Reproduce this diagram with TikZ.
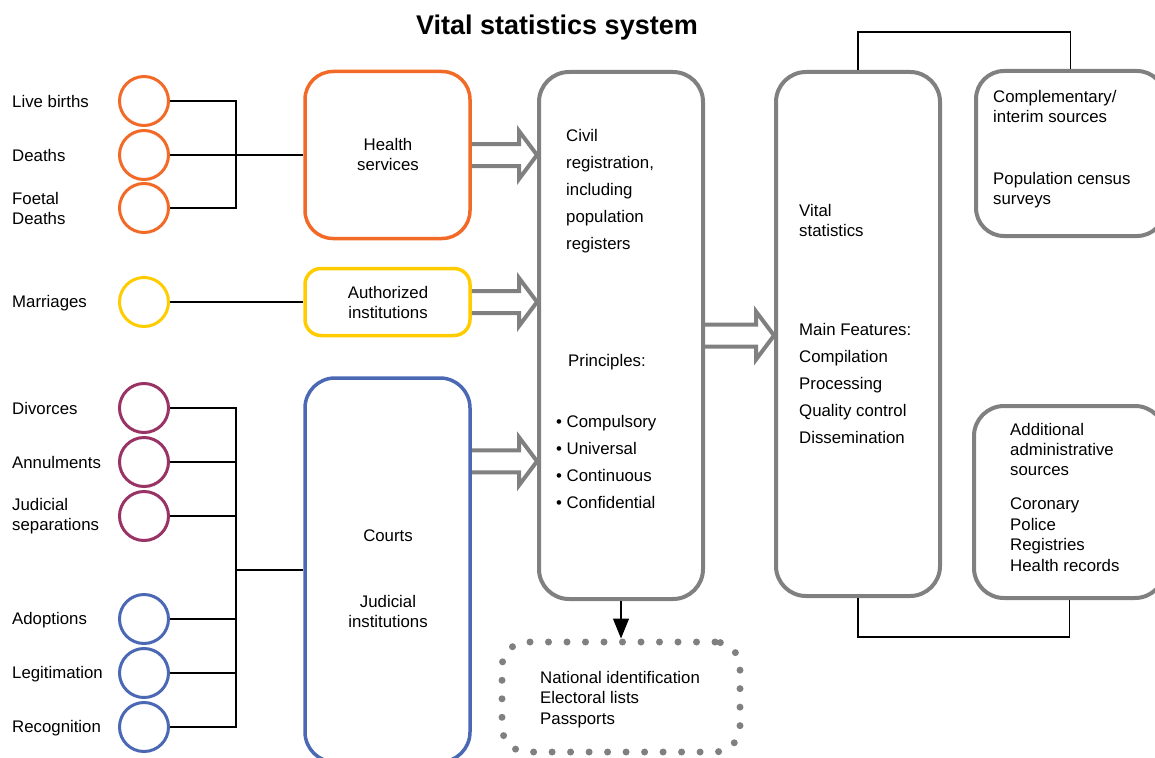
\documentclass[tikz,border=0pt]{standalone}
\usepackage{fontspec}
\setmainfont{Liberation Sans}
\usetikzlibrary{calc,arrows.meta}
\definecolor{cOr}{RGB}{242,106,40}
\definecolor{cYe}{RGB}{255,204,0}
\definecolor{cCr}{RGB}{153,51,102}
\definecolor{cBl}{RGB}{74,104,180}
\definecolor{cGr}{RGB}{128,128,128}
\newcommand\harrow[2]{\draw[harr] let \p1=(#1), \p2=(#2) in
  (\x1,\y1+11pt) -- (\x2-18pt,\y1+11pt) -- (\x2-18pt,\y1+24pt) -- (\x2,\y1)
  -- (\x2-18pt,\y1-24pt) -- (\x2-18pt,\y1-11pt) -- (\x1,\y1-11pt);}
\begin{document}
\begin{tikzpicture}[x=1pt,y=-1pt,
  circ/.style={circle, draw, line width=3pt, minimum size=49pt, inner sep=0pt},
  box/.style={draw, line width=3.5pt, rounded corners=28pt, inner sep=0pt},
  gbox/.style={box, draw=cGr, line width=4pt, rounded corners=30pt},
  lbl/.style={anchor=base west, align=left, inner sep=0pt, font=\fontsize{16.8}{20}\selectfont},
  lblw/.style={lbl, font=\fontsize{16.8}{27}\selectfont},
  ctr/.style={anchor=base, align=center, inner sep=0pt, font=\fontsize{16.8}{20}\selectfont},
  conn/.style={line width=1.2pt, black},
  harr/.style={draw=cGr, line width=4pt, line join=miter}]
\useasboundingbox (0,0) rectangle (1155,757);

% title
\node[anchor=base, inner sep=0pt, font=\fontsize{27}{32}\selectfont\bfseries] (title) at (557,35) {Vital statistics system};

% circles
\node[circ, draw=cOr] (lb) at (144,101) {};
\node[circ, draw=cOr] (de) at (144,155) {};
\node[circ, draw=cOr] (fd) at (144,208) {};
\node[circ, draw=cYe] (ma) at (144,302) {};
\node[circ, draw=cCr] (dv) at (144,408) {};
\node[circ, draw=cCr] (an) at (144,462) {};
\node[circ, draw=cCr] (js) at (144,516) {};
\node[circ, draw=cBl] (ad) at (144,619) {};
\node[circ, draw=cBl] (lg) at (144,673) {};
\node[circ, draw=cBl] (rc) at (144,727) {};

% labels (base = baseline of last line)
\node[lbl] (tlb) at (12,107) {Live births};
\node[lbl] (tde) at (12,161) {Deaths};
\node[lbl] (tfd) at (12,224) {Foetal\\Deaths};
\node[lbl] (tma) at (12,307) {Marriages};
\node[lbl] (tdv) at (12,414) {Divorces};
\node[lbl] (tan) at (12,468) {Annulments};
\node[lbl] (tjs) at (12,530) {Judicial\\separations};
\node[lbl] (tad) at (12,624) {Adoptions};
\node[lbl] (tlg) at (12,678) {Legitimation};
\node[lbl] (trc) at (12,732) {Recognition};

% boxes
\node[box, draw=cOr, minimum width=165pt, minimum height=167pt] (hs) at (387.5,155) {};
\node[box, draw=cYe, minimum width=165pt, minimum height=67pt, rounded corners=16pt] (ai) at (387.5,302) {};
\node[box, draw=cBl, minimum width=165pt, minimum height=384pt, rounded corners=30pt] (ct) at (387.5,570) {};
\node[gbox, minimum width=164pt, minimum height=527pt] (cr) at (621,335.5) {};
\node[gbox, minimum width=164pt, minimum height=524pt] (vs) at (858,334) {};
\node[gbox, minimum width=189pt, minimum height=165pt, rounded corners=28pt] (cs) at (1070.5,153.5) {};
\node[gbox, minimum width=191pt, minimum height=192pt] (as) at (1069.5,502) {};
\node[draw=cGr, line width=7pt, line cap=round, dash pattern=on 0pt off 18.5pt,
      rounded corners=25pt, minimum width=238pt, minimum height=110pt, inner sep=0pt] (dt) at (621,697) {};

% box texts
\node[ctr] (ths) at (388,170) {Health\\services};
\node[ctr] (tai) at (388,318) {Authorized\\institutions};
\node[ctr] (tct) at (388,541) {Courts};
\node[ctr] (tji) at (388,627) {Judicial\\institutions};
\node[lblw] (tcr) at (566,249) {Civil\\registration,\\including\\population\\registers};
\node[lbl] (tpr) at (568,366) {Principles:};
\node[lblw] (tpl) at (556,508) {\textbullet{} Compulsory\\\textbullet{} Universal\\\textbullet{} Continuous\\\textbullet{} Confidential};
\node[lbl] (tvs) at (799,236) {Vital\\statistics};
\node[lblw] (tmf) at (799,443) {Main Features:\\Compilation\\Processing\\Quality control\\Dissemination};
\node[lbl] (tcs) at (993,122) {Complementary/\\interim sources};
\node[lbl] (tpc) at (993,204) {Population census\\surveys};
\node[lbl] (tas) at (1010,475) {Additional\\administrative\\sources};
\node[lbl, font=\fontsize{16.8}{20.5}\selectfont] (tcp) at (1010,571) {Coronary\\Police\\Registries\\Health records};
\node[lbl, font=\fontsize{16.8}{20.5}\selectfont] (tdt) at (540,724) {National identification\\Electoral lists\\Passports};

% brackets
\coordinate (bx) at (236,0);
\draw[conn] (lb.east) -| (fd.east -| bx) -- (fd.east);
\draw[conn] (de.east) -- (hs.west);
\draw[conn] (ma.east) -- (ai.west);
\draw[conn] (dv.east) -| (rc.east -| bx) -- (rc.east);
\draw[conn] (an.east) -- (an.east -| bx);
\draw[conn] (js.east) -- (js.east -| bx);
\draw[conn] (ad.east) -- (ad.east -| bx);
\draw[conn] (lg.east) -- (lg.east -| bx);
\draw[conn] (ct.west -| bx) -- (ct.west);

% hollow arrows
\harrow{hs.east}{cr.west}
\harrow{ai.east}{cr.west}
\path (ct.north east) ++(0,85) coordinate (ctarr);
\harrow{ctarr}{cr.west}
\harrow{cr.east}{vs.west}

% right connectors
\coordinate (topc) at (963,32);
\coordinate (botc) at (963,637);
\draw[conn] (vs.north) |- (topc) -| (cs.north);
\draw[conn] (vs.south) |- (botc) -| (as.south);

% down arrow
\draw[conn, -{Triangle[width=16pt,length=20pt]}] (cr.south) -- (dt.north);
\end{tikzpicture}
\end{document}
